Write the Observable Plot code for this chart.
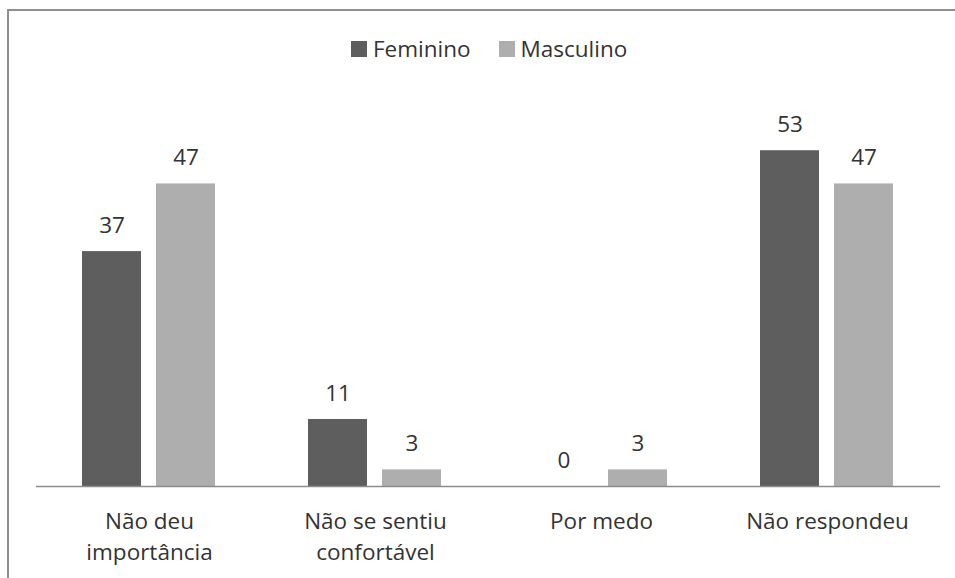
<!DOCTYPE html>
<html><head><meta charset="utf-8">
<script src="https://cdn.jsdelivr.net/npm/d3@7"></script>
<script src="https://cdn.jsdelivr.net/npm/@observablehq/plot@0.6"></script>
<style>
html,body{margin:0;padding:0;background:#fff;overflow:hidden;width:955px;height:578px}
#frame{position:absolute;left:7px;top:9px;width:1000px;height:700px;border-top:2px solid #8e8e8e;border-left:2px solid #8e8e8e;pointer-events:none}
#legend{position:relative;height:70px}
#legend .row{position:absolute;left:351px;top:38px;height:22px;display:flex;align-items:center;font-family:"Open Sans";font-size:22.5px;line-height:22px;color:#333}
#legend .sw{display:inline-block;width:16px;height:16px;margin-right:6px}
#legend .item{display:flex;align-items:center}
#chart svg{display:block}
</style>
</head><body>
<div id="frame"></div>
<div id="legend"></div>
<div id="chart"></div>
<script>
const categorias = ["Não deu importância", "Não se sentiu confortável", "Por medo", "Não respondeu"];
const rotulosEixo = ["Não deu\nimportância", "Não se sentiu\nconfortável", "Por medo", "Não respondeu"];
const series = ["Feminino", "Masculino"];
const cores = ["#5e5e5e", "#aeaeae"];
const feminino = [36.8, 10.5, 0, 52.6];
const masculino = [47.4, 2.6, 2.6, 47.4];
const rotulosFeminino = ["37", "11", "0", "53"];
const rotulosMasculino = ["47", "3", "3", "47"];

const dados = [];
categorias.forEach((c, i) => {
  dados.push({cat: c, sexo: series[0], value: feminino[i], label: rotulosFeminino[i]});
  dados.push({cat: c, sexo: series[1], value: masculino[i], label: rotulosMasculino[i]});
});

// legend
const row = document.createElement("div");
row.className = "row";
series.forEach((s, i) => {
  const it = document.createElement("span");
  it.className = "item";
  if (i > 0) it.style.marginLeft = "28px";
  const sw = document.createElement("span");
  sw.className = "sw";
  sw.style.background = cores[i];
  const tx = document.createElement("span");
  tx.textContent = s;
  it.appendChild(sw); it.appendChild(tx);
  row.appendChild(it);
});
document.getElementById("legend").appendChild(row);

const chart = Plot.plot({
  width: 955,
  height: 508,
  marginLeft: 36,
  marginRight: 15,
  marginTop: 33,
  marginBottom: 92,
  style: {fontFamily: "Open Sans", fontSize: "22px", color: "#333", background: "transparent"},
  fx: {domain: categorias, padding: 0, label: null},
  x: {domain: series, paddingInner: 0.2, paddingOuter: 0.6067, axis: null},
  y: {domain: [0, 60], axis: null},
  color: {domain: series, range: cores},
  marks: [
    Plot.barY(dados, {fx: "cat", x: "sexo", y: "value", fill: "sexo"}),
    Plot.ruleY([0], {stroke: "#8c8c8c", strokeWidth: 1.5}),
    Plot.text(dados, {fx: "cat", x: "sexo", y: "value", text: "label", lineAnchor: "bottom", dy: -18.5, fontSize: 22.5, fill: "#333"}),
    Plot.axisFx({anchor: "bottom", tickSize: 0, tickPadding: 21, lineHeight: 1.364, fontSize: 22.5, label: null, fill: "#333",
      tickFormat: d => rotulosEixo[categorias.indexOf(d)]})
  ]
});
document.getElementById("chart").appendChild(chart);
</script>
</body></html>
